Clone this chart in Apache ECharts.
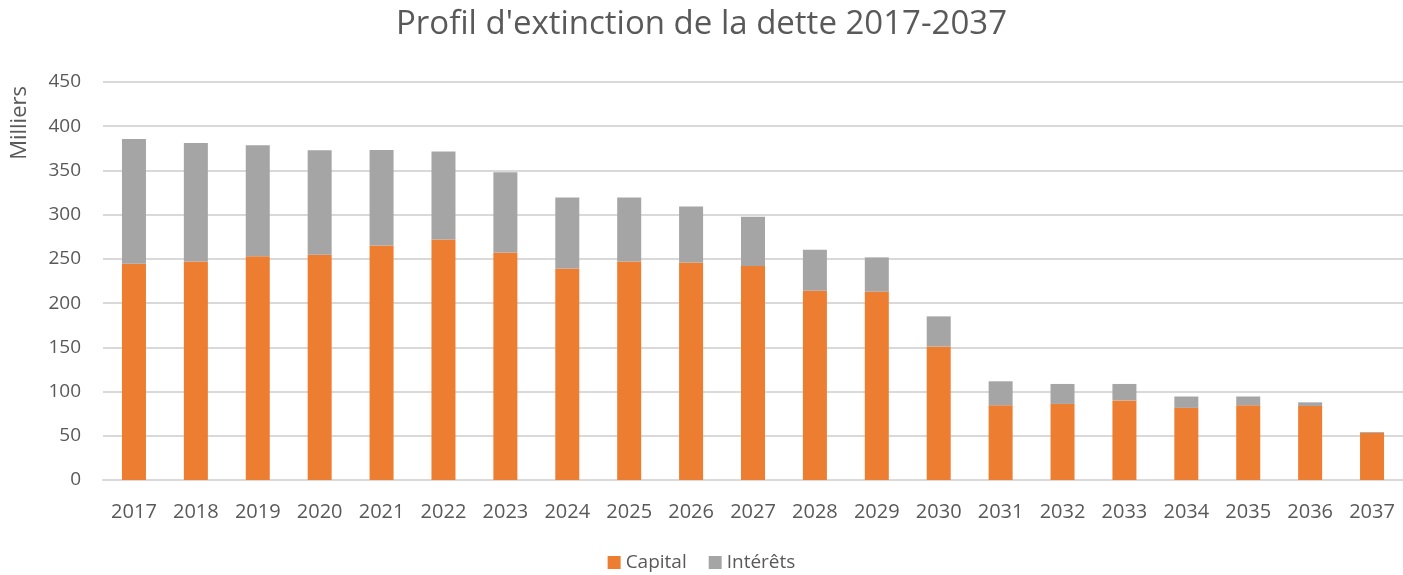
<!DOCTYPE html>
<html>
<head>
<meta charset="utf-8">
<script src="https://cdn.jsdelivr.net/npm/echarts@6/dist/echarts.min.js"></script>
<style>
  html, body { margin: 0; padding: 0; background: #fff; }
  #chart { width: 1403px; height: 575px; }
</style>
</head>
<body>
<div id="chart"></div>
<script>
  // valeurs en milliers
  var years = ['2017','2018','2019','2020','2021','2022','2023','2024','2025','2026','2027',
               '2028','2029','2030','2031','2032','2033','2034','2035','2036','2037'];
  var capital = [244.6, 247, 253, 254.7, 265, 272, 257.3, 239, 247, 246, 242,
                 214, 213, 151, 84.5, 86, 90, 81.5, 84.5, 83.7, 53.3];
  var interets = [141, 134, 125.5, 118, 108, 99.3, 90.7, 80.4, 72.4, 63.3, 55.6,
                  46.4, 38.7, 34, 27.1, 22.6, 18.6, 12.9, 9.9, 4.1, 0.9];

  var txt = '#595959';
  var font = 'Open Sans';

  var chart = echarts.init(document.getElementById('chart'));
  chart.setOption({
    animation: false,
    textStyle: { fontFamily: font },
    title: {
      text: "Profil d'extinction de la dette 2017-2037",
      left: 'center',
      top: 3,
      textStyle: { color: txt, fontSize: 33, fontWeight: 'normal', fontFamily: font }
    },
    legend: {
      bottom: -2,
      left: 'center',
      itemWidth: 13,
      itemHeight: 13,
      itemGap: 22,
      icon: 'rect',
      textStyle: { color: txt, fontSize: 19, fontFamily: font },
      data: ['Capital', 'Intérêts']
    },
    grid: { left: 103, right: -4, top: 82, bottom: 95 },
    graphic: [{
      type: 'text',
      left: 9,
      top: 86,
      style: { text: 'Milliers', fill: txt, fontSize: 22, fontFamily: font },
      rotation: Math.PI / 2,
      originX: 0, originY: 0
    }],
    xAxis: {
      type: 'category',
      data: years,
      axisLine: { lineStyle: { color: '#d9d9d9', width: 2 } },
      axisTick: { show: false },
      axisLabel: { color: txt, fontSize: 20, margin: 22 }
    },
    yAxis: {
      type: 'value',
      min: 0,
      max: 450,
      interval: 50,
      axisLine: { show: false },
      axisTick: { show: false },
      axisLabel: { color: txt, fontSize: 19, margin: 22 },
      splitLine: { lineStyle: { color: '#d9d9d9', width: 2 } }
    },
    series: [
      {
        name: 'Capital',
        type: 'bar',
        stack: 'dette',
        barWidth: 24,
        itemStyle: { color: '#ed7d31' },
        data: capital
      },
      {
        name: 'Intérêts',
        type: 'bar',
        stack: 'dette',
        barWidth: 24,
        itemStyle: { color: '#a5a5a5' },
        data: interets
      }
    ]
  });
</script>
</body>
</html>
